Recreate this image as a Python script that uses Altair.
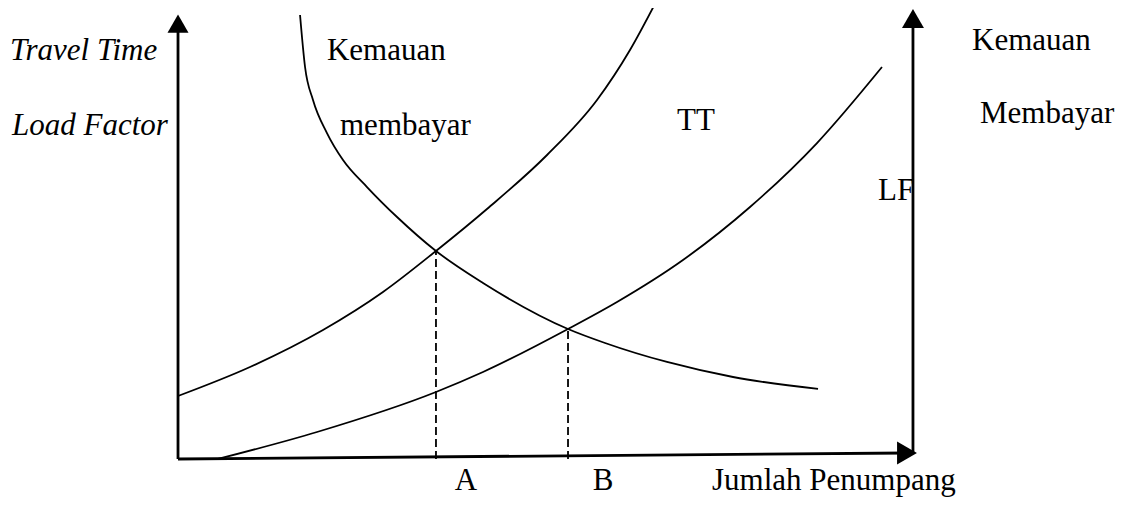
import altair as alt
import pandas as pd

# ---- data (horizontal: Jumlah Penumpang units, vertical: TT / LF units) ----
tt_x = [0, 9.78, 19.70, 27.85, 35.05, 41.98, 50.14, 56.93, 61.41, 65.08]
tt_y = [14.19, 20.72, 29.05, 37.61, 46.85, 56.31, 68.47, 80.86, 92.12, 103.38]

lf_x = [5.43, 18.89, 35.05, 41.44, 52.99, 59.65, 68.61, 77.72, 86.82, 95.65]
lf_y = [0, 6.08, 15.09, 19.59, 29.28, 35.36, 44.82, 56.76, 71.17, 88.29]

wtp_x = [16.58, 17.26, 18.34, 20.24, 22.42, 25.68, 29.76, 35.05, 41.44, 52.99, 58.02, 66.44, 75.41, 86.96]
wtp_y = [100, 88.29, 80.86, 73.42, 67.34, 61.26, 54.50, 46.85, 39.64, 29.28, 26.13, 21.85, 18.47, 15.77]

eq_names = ["A", "B"]
eq_x = [35.05, 52.99]
eq_y = [46.85, 29.28]

italic_labels = ["Travel Time", "Load Factor"]
italic_x = [-22.83, -22.55]
italic_y = [89.86, 72.97]

labels = ["Kemauan", "membayar", "TT", "Kemauan", "Membayar", "LF", "Jumlah Penumpang"]
labels_x = [20.24, 22.01, 67.80, 107.88, 108.97, 95.11, 72.55]
labels_y = [89.86, 72.97, 74.10, 92.12, 75.68, 58.33, -6.98]

tick_labels = ["A", "B"]
tick_x = [39.13, 57.74]
tick_y = [-6.98, -6.98]

# ---- axes frame ----
axis_x = [0, 0, 99.86]
axis_y = [0, 0, 1.35]
axis_x2 = [0, 99.05, 99.86]
axis_y2 = [98.0, 1.35, 99.0]

arrow_x = [0, 99.86, 99.05]
arrow_y = [98.05, 99.2, 1.35]
arrow_shape = ["triangle-up", "triangle-up", "triangle-right"]
arrow_size = [440, 480, 529]

xs = alt.Scale(domain=[-23.10, 127.31], nice=False, zero=False)
ys = alt.Scale(domain=[-8.56, 101.58], nice=False, zero=False)

curves = pd.concat([
    pd.DataFrame({"x": tt_x, "y": tt_y, "c": "TT"}),
    pd.DataFrame({"x": lf_x, "y": lf_y, "c": "LF"}),
    pd.DataFrame({"x": wtp_x, "y": wtp_y, "c": "WTP"}),
])

lines = alt.Chart(curves).mark_line(
    interpolate="monotone", color="black", strokeWidth=1.8, clip=True
).encode(
    x=alt.X("x:Q", scale=xs, axis=None),
    y=alt.Y("y:Q", scale=ys, axis=None),
    detail="c:N",
)

eq = pd.DataFrame({"n": eq_names, "x": eq_x, "y": eq_y, "y0": [0, 0]})
dashed = alt.Chart(eq).mark_rule(
    color="black", strokeWidth=1.8, strokeDash=[8, 4]
).encode(
    x=alt.X("x:Q", scale=xs, axis=None),
    y=alt.Y("y0:Q", scale=ys, axis=None),
    y2="y:Q",
)

ax = pd.DataFrame({"x": axis_x, "y": axis_y, "x2": axis_x2, "y2": axis_y2})
axes = alt.Chart(ax).mark_rule(color="black", strokeWidth=2.8).encode(
    x=alt.X("x:Q", scale=xs, axis=None),
    y=alt.Y("y:Q", scale=ys, axis=None),
    x2="x2:Q",
    y2="y2:Q",
)

ar = pd.DataFrame({"x": arrow_x, "y": arrow_y, "s": arrow_shape, "z": arrow_size})
arrows = alt.Chart(ar).mark_point(filled=True, color="black", opacity=1).encode(
    x=alt.X("x:Q", scale=xs, axis=None),
    y=alt.Y("y:Q", scale=ys, axis=None),
    shape=alt.Shape("s:N", scale=None, legend=None),
    size=alt.Size("z:Q", scale=None, legend=None),
)

it = pd.DataFrame({"t": italic_labels, "x": italic_x, "y": italic_y})
text_it = alt.Chart(it).mark_text(
    font="Liberation Serif", fontSize=31, fontStyle="italic",
    align="left", baseline="alphabetic", color="black",
).encode(
    x=alt.X("x:Q", scale=xs, axis=None),
    y=alt.Y("y:Q", scale=ys, axis=None),
    text="t:N",
)

lb = pd.DataFrame({"t": labels, "x": labels_x, "y": labels_y})
text_lb = alt.Chart(lb).mark_text(
    font="Liberation Serif", fontSize=31,
    align="left", baseline="alphabetic", color="black",
).encode(
    x=alt.X("x:Q", scale=xs, axis=None),
    y=alt.Y("y:Q", scale=ys, axis=None),
    text="t:N",
)

tk = pd.DataFrame({"t": tick_labels, "x": tick_x, "y": tick_y})
text_tk = alt.Chart(tk).mark_text(
    font="Liberation Serif", fontSize=31,
    align="center", baseline="alphabetic", color="black",
).encode(
    x=alt.X("x:Q", scale=xs, axis=None),
    y=alt.Y("y:Q", scale=ys, axis=None),
    text="t:N",
)

chart = alt.layer(lines, dashed, axes, arrows, text_it, text_lb, text_tk).properties(
    width=1107, height=489,
    autosize=alt.AutoSizeParams(type="none"),
    padding=0,
    background="white",
).configure_view(stroke=None)

chart.save("out.html", embed_options={"renderer": "svg", "actions": False})
